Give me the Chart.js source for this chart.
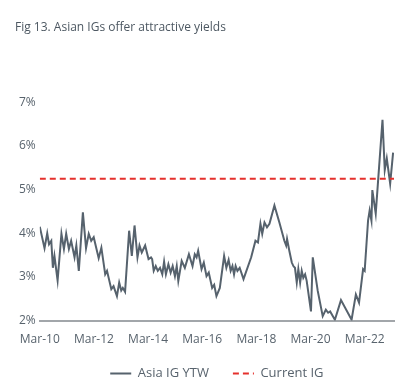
<!DOCTYPE html>
<html>
<head>
<meta charset="utf-8">
<script src="https://cdn.jsdelivr.net/npm/chart.js@4/dist/chart.umd.min.js"></script>
<style>
html,body{margin:0;padding:0;background:#fff;}
#wrap{width:411px;height:391px;position:relative;}
</style>
</head>
<body>
<div id="wrap"><canvas id="c" width="411" height="391"></canvas></div>
<script>
// Months since Mar-2010
const months = [0,2.1,3.3,4.1,5.1,5.8,6.5,7.9,9.6,10.7,11.7,12.9,13.9,15.4,16.2,17.3,19.1,20.5,21.7,22.8,23.9,26.1,27.3,29.0,29.8,31.7,32.7,34.2,35.2,36.1,36.8,37.8,39.6,40.8,42.0,43.3,44.2,45.2,46.7,48.2,49.3,49.8,50.5,51.4,52.3,53.3,54.3,55.1,55.9,57.0,58.0,58.9,59.9,60.7,61.4,62.9,64.3,66.1,67.7,68.7,69.5,70.2,71.7,72.7,73.9,74.9,76.4,77.3,78.3,79.8,81.7,82.7,83.7,84.6,85.4,86.1,86.8,87.6,88.6,90.3,93.7,95.6,96.7,97.8,98.6,99.6,100.7,101.8,104.0,106.2,108.4,109.2,109.6,110.6,111.7,112.4,113.1,113.9,114.6,115.4,116.1,116.8,117.6,118.3,120.2,121.0,123.2,125.4,126.8,127.8,128.7,130.8,133.5,138.2,140.1,141.5,143.3,144.0,145.5,146.2,147.0,147.4,148.9,151.9,152.9,153.8,155.3,156.6];
// Asia IG yield to worst, %
const asiaIgYtw = [4.15,3.66,4.00,3.75,3.83,3.21,3.48,2.92,3.99,3.64,3.99,3.64,3.83,3.45,3.72,3.14,4.48,3.66,3.99,3.83,3.91,3.43,3.67,3.06,3.14,2.72,2.79,2.56,2.87,2.69,2.75,2.66,4.06,3.48,4.18,3.45,3.72,3.56,3.72,3.41,3.45,3.41,3.14,3.25,3.14,3.21,3.06,3.35,3.06,3.29,3.10,3.25,3.02,3.25,2.91,3.37,3.21,3.52,3.25,3.52,3.45,3.60,3.18,3.33,3.02,3.10,2.75,2.82,2.56,2.75,3.48,3.21,3.39,3.14,3.25,3.06,3.25,3.14,3.21,2.95,3.45,3.83,3.79,4.22,3.99,4.25,4.14,4.22,4.64,4.25,3.83,3.72,3.87,3.60,3.33,3.25,3.21,2.87,3.18,2.87,3.14,2.98,3.06,2.91,2.21,3.45,2.68,2.10,2.25,2.18,2.21,2.02,2.47,2.02,2.60,2.41,3.18,3.14,4.29,4.52,4.29,4.99,4.45,6.60,5.45,5.72,5.14,5.85];
// Current IG level, %
const currentIg = 5.25;
const xRange = [0, 157];
const xTickMonths = [0,24,48,72,96,120,144];
const xTickLabels = ['Mar-10','Mar-12','Mar-14','Mar-16','Mar-18','Mar-20','Mar-22'];
const yTicks = [2,3,4,5,6,7];
const seriesNames = ['Asia IG YTW','Current IG'];

const FONT = "'Open Sans', sans-serif";
const TXT = '#58636d';
const DASH = [6,4];

const asiaData = months.map((m,i)=>({x:m,y:asiaIgYtw[i]}));
const curData = xRange.map(x=>({x:x,y:currentIg}));

new Chart(document.getElementById('c'), {
  type: 'line',
  data: {
    datasets: [
      {label: seriesNames[0], data: asiaData, borderColor:'#56626d', backgroundColor:'#56626d', borderWidth:2, pointRadius:0, tension:0, order:2},
      {label: seriesNames[1], data: curData, borderColor:'#e5302c', backgroundColor:'#e5302c', borderWidth:2, borderDash:DASH, pointRadius:0, order:1}
    ]
  },
  options: {
    responsive:false, animation:false, devicePixelRatio:1,
    layout:{padding:{left:15,right:17,top:0,bottom:1}},
    plugins:{
      title:{display:true,text:'Fig 13. Asian IGs offer attractive yields',align:'start',color:'#4d5862',
        font:{family:FONT,size:12,weight:'normal'},padding:{top:20,bottom:68}},
      legend:{position:'bottom',fullSize:false,
        labels:{usePointStyle:true,pointStyle:'line',pointStyleWidth:21,boxHeight:13,color:TXT,padding:24,
          font:{family:FONT,size:13},
          sort:(a,b)=>a.datasetIndex-b.datasetIndex,
          generateLabels:(chart)=>{
            const items = Chart.defaults.plugins.legend.labels.generateLabels(chart);
            items.forEach(it=>{
              const ds = chart.data.datasets[it.datasetIndex];
              it.lineDash = ds.borderDash || [];
              it.strokeStyle = ds.borderColor;
              it.lineWidth = 2;
            });
            return items;
          }}},
      tooltip:{enabled:false}
    },
    scales:{
      x:{type:'linear',min:xRange[0],max:xRange[1],
        grid:{display:false,drawTicks:false},
        border:{display:true,color:'#a2a6aa',width:2},
        afterBuildTicks:(s)=>{s.ticks=xTickMonths.map(v=>({value:v}));},
        afterFit:(s)=>{s.height -= 16;},
        ticks:{padding:12,color:TXT,font:{family:FONT,size:12},maxRotation:0,autoSkip:false,
          callback:(v)=>{const i=xTickMonths.indexOf(v);return i>=0?xTickLabels[i]:'';}}},
      y:{min:2,max:7,
        grid:{display:false,drawTicks:false},
        border:{display:false},
        afterBuildTicks:(s)=>{s.ticks=yTicks.map(v=>({value:v}));},
        ticks:{padding:4,color:TXT,font:{family:FONT,size:12},callback:(v)=>v+'%'}}
    }
  }
});
</script>
</body>
</html>
